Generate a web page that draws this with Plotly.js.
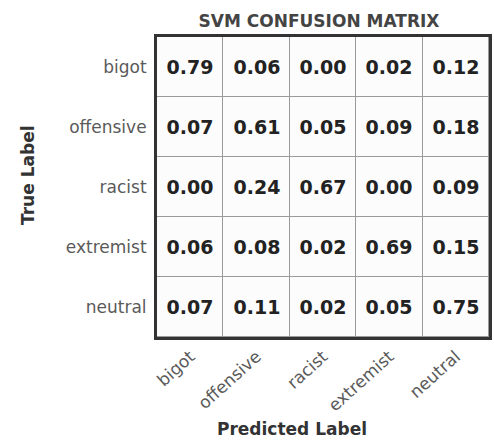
<!DOCTYPE html>
<html>
<head>
<meta charset="utf-8">
<script src="https://cdn.plot.ly/plotly-3.0.1.min.js"></script>
<style>html,body{margin:0;padding:0;background:#fff;}#chart{width:494px;height:440px;}</style>
</head>
<body>
<div id="chart"></div>
<script>
const predictedLabels = ['bigot', 'offensive', 'racist', 'extremist', 'neutral'];
const trueLabels = ['bigot', 'offensive', 'racist', 'extremist', 'neutral'];
const rowBigot = [0.79, 0.06, 0.00, 0.02, 0.12];
const rowOffensive = [0.07, 0.61, 0.05, 0.09, 0.18];
const rowRacist = [0.00, 0.24, 0.67, 0.00, 0.09];
const rowExtremist = [0.06, 0.08, 0.02, 0.69, 0.15];
const rowNeutral = [0.07, 0.11, 0.02, 0.05, 0.75];
const matrix = [rowBigot, rowOffensive, rowRacist, rowExtremist, rowNeutral];

const W = 494, H = 440;
const m = {l: 157, r: 5, t: 37, b: 103};
const pw = W - m.l - m.r, ph = H - m.t - m.b;
const px = x => (x - m.l) / pw;
const py = y => (H - m.b - y) / ph;

const trace = {
  type: 'heatmap',
  x: predictedLabels,
  y: trueLabels,
  z: matrix,
  colorscale: [[0, '#fcfcfc'], [1, '#fcfcfc']],
  showscale: false,
  xgap: 1,
  ygap: 1,
  texttemplate: '<b>%{z:.2f}</b>',
  textfont: {family: 'DejaVu Sans', size: 19, color: '#222222'},
  hoverinfo: 'skip'
};

const tickFont = {family: 'DejaVu Sans', size: 17, color: '#5a5a5a'};

const layout = {
  width: W, height: H,
  margin: m,
  paper_bgcolor: '#ffffff',
  plot_bgcolor: '#9a9a9a',
  title: {
    text: '<b>SVM CONFUSION MATRIX</b>',
    x: 319 / W, xanchor: 'center', xref: 'container',
    y: 1 - 21 / H, yanchor: 'middle', yref: 'container',
    font: {family: 'DejaVu Sans', size: 17, color: '#444444'}
  },
  xaxis: {
    type: 'category',
    showgrid: false, zeroline: false,
    showline: true, mirror: true, linewidth: 3, linecolor: '#333333',
    ticks: '', tickangle: -42, tickfont: tickFont,
    ticklabelstandoff: 0
  },
  yaxis: {
    type: 'category',
    autorange: 'reversed',
    showgrid: false, zeroline: false,
    showline: true, mirror: true, linewidth: 3, linecolor: '#333333',
    ticks: '', tickfont: tickFont,
    ticklabelstandoff: 4
  },
  annotations: [
    {
      text: '<b>True Label</b>', xref: 'paper', yref: 'paper',
      x: px(28), y: py(175), xanchor: 'center', yanchor: 'middle',
      textangle: -90, showarrow: false,
      font: {family: 'DejaVu Sans', size: 17, color: '#333333'}
    },
    {
      text: '<b>Predicted Label</b>', xref: 'paper', yref: 'paper',
      x: px(292), y: py(429), xanchor: 'center', yanchor: 'middle',
      showarrow: false,
      font: {family: 'DejaVu Sans', size: 17, color: '#333333'}
    }
  ]
};

Plotly.newPlot('chart', [trace], layout, {displayModeBar: false, staticPlot: true});
</script>
</body>
</html>
